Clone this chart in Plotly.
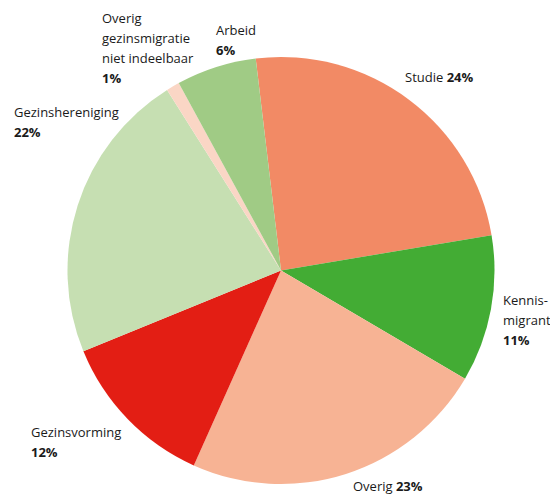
import plotly.graph_objects as go

categories = ["Studie", "Kennismigrant", "Overig", "Gezinsvorming",
              "Gezinshereniging", "Overig gezinsmigratie niet indeelbaar", "Arbeid"]
values = [24, 11, 23, 12, 22, 1, 6]
colors = ["#F28A65", "#43AC34", "#F7B394", "#E31E14", "#C6DFB2", "#FAD6C5", "#A0CB85"]

# label line texts (name lines), percent shown bold
label_lines = {
    "Studie": ["Studie"],
    "Kennismigrant": ["Kennis-", "migrant"],
    "Overig": ["Overig"],
    "Gezinsvorming": ["Gezinsvorming"],
    "Gezinshereniging": ["Gezinshereniging"],
    "Overig gezinsmigratie niet indeelbaar": ["Overig", "gezinsmigratie", "niet indeelbaar"],
    "Arbeid": ["Arbeid"],
}
# layout of labels in window pixels: (left x, first line y, inline percent?)
label_pos = {
    "Studie": (403, 77, True),
    "Kennismigrant": (501, 300, False),
    "Overig": (351, 486, True),
    "Gezinsvorming": (29, 432, False),
    "Gezinshereniging": (12, 112, False),
    "Overig gezinsmigratie niet indeelbaar": (100, 18, False),
    "Arbeid": (214, 30, False),
}

W, H = 550, 495
LINE = 20


def px_x(x):
    return x / W


def px_y(y):
    return 1 - y / H


fig = go.Figure(go.Pie(
    labels=categories, values=values, sort=False, direction="clockwise",
    rotation=-6.8, textinfo="none", showlegend=False,
    marker=dict(colors=colors, line=dict(width=0)),
    domain=dict(x=[px_x(67.5), px_x(494.5)], y=[px_y(484), px_y(57)]),
))

font = dict(family="Open Sans", size=13, color="#1a1a1a")
anns = []
for cat, val in zip(categories, values):
    x, y, inline = label_pos[cat]
    lines = list(label_lines[cat])
    if inline:
        lines[-1] = lines[-1] + " <b>%d%%</b>" % val
    else:
        lines.append("<b>%d%%</b>" % val)
    for i, t in enumerate(lines):
        anns.append(dict(text=t, x=px_x(x), y=px_y(y + i * LINE), xref="paper", yref="paper",
                         xanchor="left", yanchor="middle", showarrow=False, font=font))

fig.update_layout(width=W, height=H, margin=dict(l=0, r=0, t=0, b=0),
                  paper_bgcolor="white", plot_bgcolor="white", annotations=anns)
fig.write_html("out.html", config={"displayModeBar": False},
               post_script="document.body.style.margin='0';document.body.style.overflow='hidden';")
